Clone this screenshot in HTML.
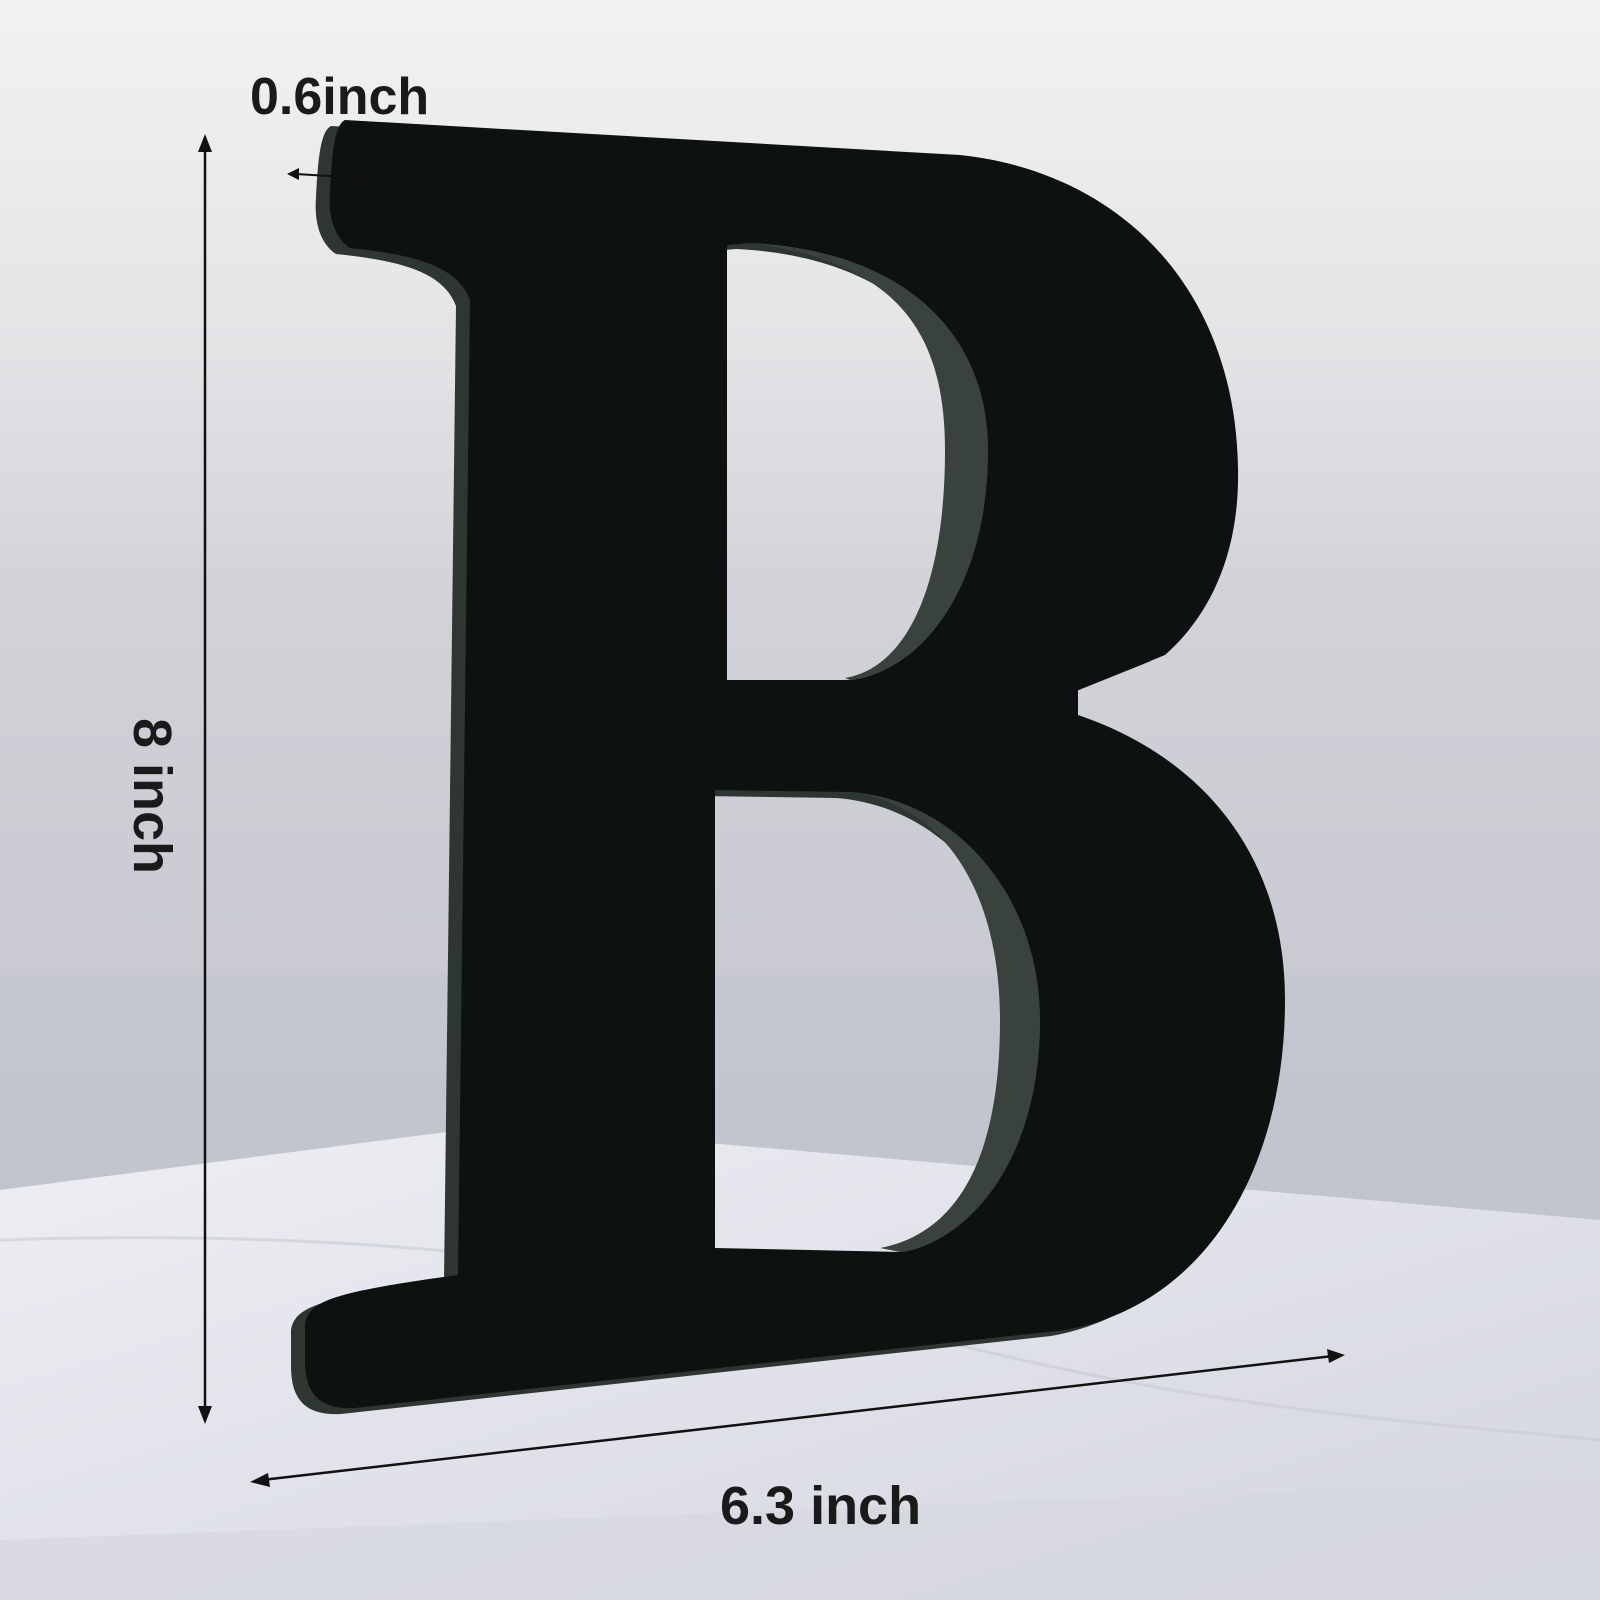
<!DOCTYPE html>
<html><head><meta charset="utf-8"><style>
html,body{margin:0;padding:0;width:1600px;height:1600px;overflow:hidden;background:#e6e6e9}
svg{display:block}
text{font-family:"Liberation Sans",sans-serif;font-weight:bold;fill:#1a1a1a}
</style></head><body>
<svg width="1600" height="1600" viewBox="0 0 1600 1600">
<defs>
<linearGradient id="wall" x1="0" y1="0" x2="0" y2="1">
<stop offset="0" stop-color="#f2f2f3"/><stop offset="0.35" stop-color="#e4e4e7"/><stop offset="0.6" stop-color="#d2d2d8"/><stop offset="1" stop-color="#c9cad2"/>
</linearGradient>
<linearGradient id="floor" x1="0" y1="0" x2="0" y2="1">
<stop offset="0" stop-color="#c4c6d0"/><stop offset="1" stop-color="#bcbfca"/>
</linearGradient>
<linearGradient id="marble" x1="0" y1="0" x2="1" y2="1">
<stop offset="0" stop-color="#eeeff4"/><stop offset="0.5" stop-color="#e0e1e9"/><stop offset="1" stop-color="#d3d5df"/>
</linearGradient>
</defs>
<rect x="0" y="0" width="1600" height="980" fill="url(#wall)"/>
<rect x="0" y="975" width="1600" height="625" fill="url(#floor)"/>
<polygon points="0,1190 500,1125 1600,1220 1600,1600 0,1600" fill="url(#marble)"/>
<polygon points="0,1540 1600,1480 1600,1600 0,1600" fill="#d6d7df" opacity="0.7"/>
<path d="M0,1240 C300,1230 600,1250 900,1330 S1400,1420 1600,1440" stroke="#c8cad4" stroke-width="3" fill="none" opacity="0.6"/>
<g>
<path fill="#2e3631" fill-rule="evenodd" transform="translate(-14,6)" d="M345,120 L960,155 C1120,172 1235,288 1238,468 C1240,560 1205,620 1165,655 L1078,690 L1078,715 C1205,758 1285,858 1285,1000 C1285,1170 1205,1305 1065,1330 L355,1408 C318,1410 305,1392 305,1360 L305,1325 C308,1300 335,1292 458,1275 L470,300 C458,268 420,255 350,248 C335,238 328,218 330,192 C332,150 335,125 345,120 Z M727,245 L750,243 C900,250 988,330 988,450 C988,590 920,672 850,680 L727,680 Z M715,790 L850,792 C960,800 1040,900 1040,1020 C1040,1170 960,1245 900,1252 L715,1248 Z"/>
<path fill="#0d1110" fill-rule="evenodd" d="M345,120 L960,155 C1120,172 1235,288 1238,468 C1240,560 1205,620 1165,655 L1078,690 L1078,715 C1205,758 1285,858 1285,1000 C1285,1170 1205,1305 1065,1330 L355,1408 C318,1410 305,1392 305,1360 L305,1325 C308,1300 335,1292 458,1275 L470,300 C458,268 420,255 350,248 C335,238 328,218 330,192 C332,150 335,125 345,120 Z M727,245 L750,243 C900,250 988,330 988,450 C988,590 920,672 850,680 L727,680 Z M715,790 L850,792 C960,800 1040,900 1040,1020 C1040,1170 960,1245 900,1252 L715,1248 Z"/>
<path fill="#3a423d" d="M750,243 C900,250 988,330 988,450 C988,590 920,672 850,680 L845,678 C905,668 945,590 945,450 C945,330 895,262 750,243 Z"/>
<path fill="#3a423d" d="M850,792 C960,800 1040,900 1040,1020 C1040,1170 960,1245 900,1252 L880,1248 C950,1235 1000,1170 1000,1020 C1000,900 950,805 850,792 Z"/>
</g>
<g stroke="#111" stroke-width="2.5" fill="#111">
<line x1="205" y1="145" x2="205" y2="1412"/>
<polygon points="205,134 198,152 212,152" stroke="none"/>
<polygon points="205,1424 198,1406 212,1406" stroke="none"/>
</g>
<g stroke="#111" stroke-width="2.5" fill="#111">
<line x1="262" y1="1480" x2="1333" y2="1356"/>
<polygon points="250,1482 268,1473 270,1487" stroke="none"/>
<polygon points="1345,1355 1327,1349 1329,1363" stroke="none"/>
</g>
<g stroke="#111" stroke-width="2" fill="#111">
<line x1="296" y1="174" x2="362" y2="178"/>
<polygon points="287,174 299,168 299,180" stroke="none"/>
<polygon points="372,178 360,172 360,184" stroke="none"/>
</g>
<text x="250" y="114" font-size="52">0.6inch</text>
<text x="0" y="0" font-size="54" transform="translate(134,718) rotate(90)">8 inch</text>
<text x="720" y="1524" font-size="54">6.3 inch</text>
</svg>
</body></html>
